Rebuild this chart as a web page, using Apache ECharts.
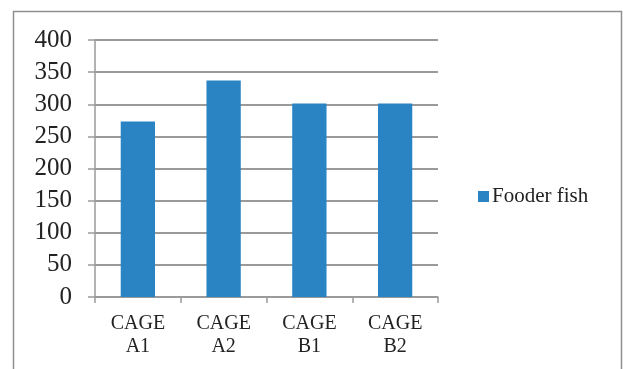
<!DOCTYPE html>
<html>
<head>
<meta charset="utf-8">
<script src="https://cdn.jsdelivr.net/npm/echarts@6/dist/echarts.min.js"></script>
<style>
  html, body { margin: 0; padding: 0; background: #fff; }
  #chart { width: 623px; height: 369px; }
</style>
</head>
<body>
<div id="chart"></div>
<script>
// Fodder fish per cage
const categories = ['CAGE\nA1', 'CAGE\nA2', 'CAGE\nB1', 'CAGE\nB2'];
const fodderFish = [273, 337, 301, 301];
const seriesName = 'Fooder fish';
const yTicks = { min: 0, max: 400, interval: 50 };

const serif = '"Liberation Serif", "Times New Roman", serif';
const gridGray = '#9a9a9a';

const chart = echarts.init(document.getElementById('chart'), null, { renderer: 'canvas' });
chart.setOption({
  animation: false,
  backgroundColor: '#fff',
  graphic: [{
    type: 'rect',
    shape: { x: 13.5, y: 11.5, width: 608, height: 420 },
    style: { fill: 'none', stroke: '#8f8f8f', lineWidth: 1.5 },
    silent: true
  }],
  legend: {
    data: [seriesName],
    left: 473,
    top: 181,
    itemWidth: 11,
    itemHeight: 11,
    icon: 'rect',
    textStyle: { fontFamily: serif, fontSize: 21, color: '#222', padding: [0, 0, 0, -2] }
  },
  grid: { left: 95, right: 185, top: 40, bottom: 72, containLabel: false },
  xAxis: {
    type: 'category',
    data: categories,
    boundaryGap: true,
    axisLine: { lineStyle: { color: gridGray, width: 1.5 } },
    axisTick: { show: true, length: 6, lineStyle: { color: gridGray, width: 1.5 } },
    axisLabel: {
      fontFamily: serif, fontSize: 20, color: '#222', lineHeight: 23, margin: 15
    }
  },
  yAxis: {
    type: 'value',
    min: yTicks.min,
    max: yTicks.max,
    interval: yTicks.interval,
    axisLine: { show: true, lineStyle: { color: gridGray, width: 1.5 } },
    axisTick: { show: true, inside: false, length: 7, lineStyle: { color: gridGray, width: 1.5 } },
    splitLine: { lineStyle: { color: gridGray, width: 2 } },
    axisLabel: { fontFamily: serif, fontSize: 25, color: '#222', margin: 23 }
  },
  series: [{
    name: seriesName,
    type: 'bar',
    data: fodderFish,
    barWidth: '40%',
    itemStyle: { color: '#2a83c3' }
  }]
});
</script>
</body>
</html>
